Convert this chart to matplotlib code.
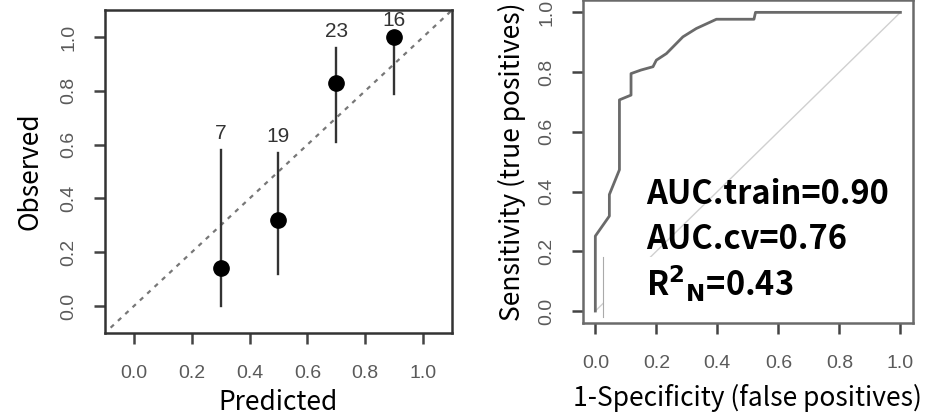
#!/usr/bin/env python3
import matplotlib
matplotlib.use('Agg')
import matplotlib.pyplot as plt
from matplotlib.patches import Rectangle

# calibration panel
pred = [0.3, 0.5, 0.7, 0.9]
obs = [0.14, 0.32, 0.83, 1.0]
obs_lo = [0.0, 0.12, 0.61, 0.79]
obs_hi = [0.58, 0.57, 0.96, 1.0]
counts = ['7', '19', '23', '16']

# ROC panel
fpr = [0.0, 0.0, 0.046, 0.046, 0.079, 0.079, 0.117, 0.117, 0.150, 0.189,
       0.2, 0.233, 0.287, 0.331, 0.397, 0.52, 0.525, 1.0]
tpr = [0.0, 0.251, 0.318, 0.39, 0.473, 0.707, 0.723, 0.795, 0.807, 0.818,
       0.84, 0.862, 0.918, 0.946, 0.977, 0.977, 1.0, 1.0]
stats = ['AUC.train=0.90', 'AUC.cv=0.76', r'R$^\mathbf{2}$$_\mathbf{N}$=0.43']

label_font = ['Noto Sans CJK KR', 'DejaVu Sans']
tick_font = ['Liberation Sans', 'DejaVu Sans']
tick_color = '#5a5a5a'
ticks = [0.0, 0.2, 0.4, 0.6, 0.8, 1.0]
tick_labels = ['0.0', '0.2', '0.4', '0.6', '0.8', '1.0']


def style(ax, box_color):
  for sp in ax.spines.values():
    sp.set_color(box_color)
    sp.set_linewidth(1.8)
  ax.set_xticks(ticks)
  ax.set_yticks(ticks)
  ax.set_xticklabels(tick_labels, fontfamily=tick_font)
  ax.set_yticklabels(tick_labels, fontfamily=tick_font, rotation=90, va='center')
  ax.tick_params(length=8, width=1.8, color='#444444', labelcolor=tick_color,
                 labelsize=14)
  ax.tick_params(axis='x', pad=15)
  ax.tick_params(axis='y', pad=12)


def main():
  fig = plt.figure(figsize=(9.36, 4.2), dpi=100)

  # left: calibration
  ax = fig.add_axes([0.112, 0.207, 0.371, 0.769])
  ax.plot([-0.08, 1.1], [-0.08, 1.1], color='#777777', linestyle=(0, (2, 2.5)),
          linewidth=1.6, zorder=1)
  for x, y, lo, hi, n in zip(pred, obs, obs_lo, obs_hi, counts):
    ax.plot([x, x], [lo, hi], color='#333333', linewidth=1.7, zorder=2)
    ax.text(x, hi + 0.025, n, ha='center', va='bottom', fontsize=15,
            color='#333333', fontfamily=tick_font)
  ax.plot(pred, obs, 'o', color='black', markersize=11, zorder=3)
  ax.set_xlim(-0.1, 1.1)
  ax.set_ylim(-0.1, 1.1)
  style(ax, '#333333')
  ax.set_xlabel('Predicted', fontsize=19, fontfamily=label_font, labelpad=5)
  ax.set_ylabel('Observed', fontsize=19, fontfamily=label_font, labelpad=12)

  # right: ROC
  ax2 = fig.add_axes([0.623, 0.231, 0.352, 0.768])
  ax2.plot([0, 1], [0, 1], color='#d0d0d0', linewidth=1.0, zorder=1)
  ax2.add_patch(Rectangle((0.026, -0.03), 1.0, 0.21, facecolor='white',
                          edgecolor='none', zorder=2))
  ax2.plot([0.026, 0.026], [-0.02, 0.18], color='#aaaaaa', linewidth=0.8, zorder=2)
  ax2.plot(fpr, tpr, color='#6a6a6a', linewidth=2.0, zorder=3)
  ax2.set_xlim(-0.04, 1.04)
  ax2.set_ylim(-0.04, 1.04)
  style(ax2, '#6a6a6a')
  ax2.set_xlabel('1-Specificity (false positives)', fontsize=19,
                 fontfamily=label_font, labelpad=9)
  ax2.set_ylabel('Sensitivity (true positives)', fontsize=19,
                 fontfamily=label_font, labelpad=9)
  for i, s in enumerate(stats):
    ax2.text(0.165, 0.39 - i * 0.15, s, fontsize=23.5, fontweight='heavy',
             fontfamily=label_font, va='center', ha='left', zorder=4)

  fig.savefig('out.png', dpi=100)


if __name__ == '__main__':
  main()
